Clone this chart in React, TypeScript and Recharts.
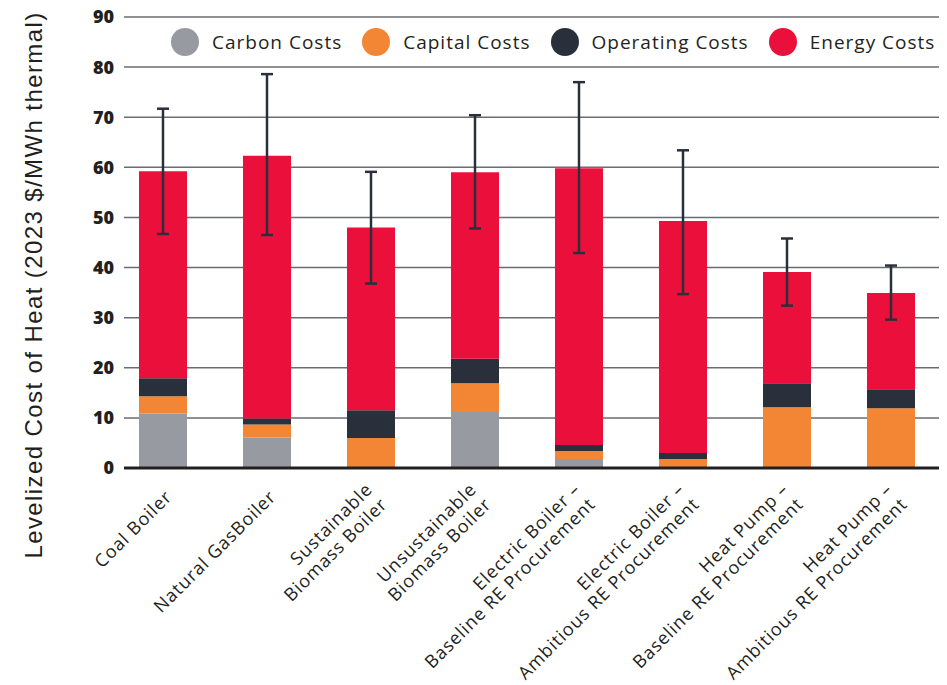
import {
  Bar,
  BarChart,
  CartesianGrid,
  ErrorBar,
  ReferenceLine,
  XAxis,
  YAxis,
} from "recharts";

const categories = [
  "Coal Boiler",
  "Natural GasBoiler",
  "Sustainable\nBiomass Boiler",
  "Unsustainable\nBiomass Boiler",
  "Electric Boiler –\nBaseline RE Procurement",
  "Electric Boiler –\nAmbitious RE Procurement",
  "Heat Pump –\nBaseline RE Procurement",
  "Heat Pump –\nAmbitious RE Procurement",
];

const carbon = [10.9, 6.1, 0, 11.2, 1.8, 0, 0, 0];
const capital = [3.4, 2.6, 6.0, 5.7, 1.6, 1.8, 12.1, 11.9];
const operating = [3.6, 1.2, 5.5, 4.9, 1.2, 1.2, 4.8, 3.8];
const energy = [41.3, 52.4, 36.5, 37.2, 55.2, 46.3, 22.2, 19.2];
const rangeLow = [46.7, 46.5, 36.8, 47.8, 42.9, 34.7, 32.4, 29.6];
const rangeHigh = [71.7, 78.6, 59.1, 70.4, 77.0, 63.4, 45.8, 40.4];

const yTicks = [0, 10, 20, 30, 40, 50, 60, 70, 80, 90];

const series = [
  { key: "carbon", name: "Carbon Costs", color: "#979aa1" },
  { key: "capital", name: "Capital Costs", color: "#f28634" },
  { key: "operating", name: "Operating Costs", color: "#29303b" },
  { key: "energy", name: "Energy Costs", color: "#eb0f3b" },
];

const data = categories.map((name, i) => {
  const total = carbon[i] + capital[i] + operating[i] + energy[i];
  return {
    name,
    carbon: carbon[i],
    capital: capital[i],
    operating: operating[i],
    energy: energy[i],
    err: [total - rangeLow[i], rangeHigh[i] - total],
  };
});

const LABEL_FONT = "'Open Sans', sans-serif";

function XTick({ x, y, payload }: any) {
  const lines = String(payload.value).split("\n");
  const lh = 21;
  return (
    <g transform={`translate(${x + 10},${y + 30})`}>
      <text
        transform="rotate(-45)"
        textAnchor="end"
        fontSize={18}
        letterSpacing={0.9}
        fill="#231f20"
        fontFamily={LABEL_FONT}
      >
        {lines.map((l, i) => (
          <tspan key={i} x={0} dy={i === 0 ? -((lines.length - 1) * lh) / 2 : lh}>
            {l}
          </tspan>
        ))}
      </text>
    </g>
  );
}

function ChartLegend() {
  return (
    <div
      style={{
        position: "absolute",
        top: 28,
        left: 163,
        display: "flex",
        alignItems: "center",
        fontFamily: LABEL_FONT,
      }}
    >
      {series.map((s) => (
        <div key={s.key} style={{ display: "flex", alignItems: "center", marginRight: 20 }}>
          <span
            style={{
              width: 28,
              height: 28,
              borderRadius: "50%",
              background: s.color,
              marginRight: 13,
              display: "inline-block",
            }}
          />
          <span style={{ fontSize: 19, letterSpacing: 1, color: "#231f20", whiteSpace: "nowrap" }}>
            {s.name}
          </span>
        </div>
      ))}
    </div>
  );
}

export default function App() {
  return (
    <div style={{ position: "relative", width: 939, height: 685, marginTop: -8 }}>
      <BarChart
        width={939}
        height={685}
        data={data}
        margin={{ top: 17, right: 7, left: 0, bottom: 0 }}
        barSize={48}
      >
        <CartesianGrid vertical={false} stroke="#6a6c70" strokeWidth={1.5} />
        <XAxis
          dataKey="name"
          interval={0}
          axisLine={false}
          tickLine={false}
          tickSize={0}
          tickMargin={0}
          height={217}
          padding={{ left: -13, right: -3 }}
          tick={<XTick />}
        />
        <YAxis
          width={116}
          domain={[0, 90]}
          ticks={yTicks}
          axisLine={false}
          tickLine={false}
          tickSize={6}
          tickMargin={4}
          tick={{ fontSize: 18, fontWeight: 800, fill: "#231f20", fontFamily: LABEL_FONT }}
          label={{
            content: () => (
              <text
                x={34}
                y={285}
                transform="rotate(-90 34 285)"
                textAnchor="middle"
                fontSize={24}
                letterSpacing={1.4}
                fill="#231f20"
                fontFamily="'Liberation Sans', Arial, sans-serif"
              >
                Levelized Cost of Heat (2023 $/MWh thermal)
              </text>
            ),
          }}
        />
        {series.map((s) => (
          <Bar
            key={s.key}
            dataKey={s.key}
            name={s.name}
            stackId="cost"
            fill={s.color}
            isAnimationActive={false}
          >
            {s.key === "energy" ? (
              <ErrorBar dataKey="err" width={6} strokeWidth={2.5} stroke="#29303b" direction="y" />
            ) : null}
          </Bar>
        ))}
        <ReferenceLine y={0} stroke="#231f20" strokeWidth={3} />
      </BarChart>
      <ChartLegend />
    </div>
  );
}
